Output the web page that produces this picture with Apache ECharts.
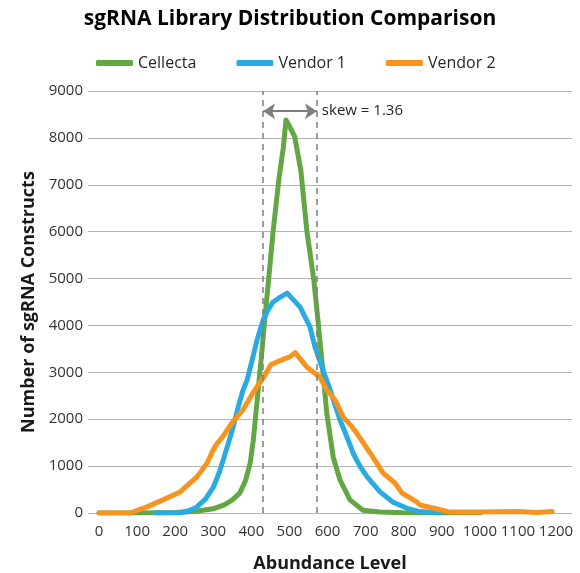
<!DOCTYPE html>
<html>
<head>
<meta charset="utf-8">
<script src="https://cdn.jsdelivr.net/npm/echarts@6/dist/echarts.min.js"></script>
<style>
  html, body { margin: 0; padding: 0; background: #fff; }
  #chart { width: 580px; height: 573px; }
</style>
</head>
<body>
<div id="chart"></div>
<script>
// data
const cellectaX = [0, 100, 200, 250, 300, 330, 350, 370, 385, 397, 405, 412, 420, 428, 436, 445, 457, 472, 484, 491, 500, 514, 530, 546, 564, 575, 587, 598, 615, 633, 659, 693, 738, 800, 900, 1000]
const cellectaY = [0, 0, 10, 30, 90, 180, 280, 430, 700, 1070, 1550, 2130, 2800, 3480, 4200, 4950, 6000, 7100, 7800, 8380, 8250, 8020, 7300, 6000, 4970, 4100, 3100, 2130, 1190, 700, 280, 60, 20, 5, 0, 0]

const vendor1X = [150, 180, 213, 240, 257, 280, 300, 315, 326, 340, 352, 365, 378, 389, 402, 415, 431, 445, 457, 475, 494, 510, 528, 554, 567, 588, 607, 633, 651, 667, 685, 704, 738, 772, 809, 843, 870, 900]
const vendor1Y = [0, 0, 0, 60, 130, 300, 550, 850, 1130, 1500, 1830, 2250, 2620, 2840, 3260, 3690, 4120, 4350, 4500, 4600, 4690, 4550, 4390, 3970, 3540, 3050, 2620, 1980, 1620, 1280, 1000, 770, 450, 230, 100, 30, 15, 10]

const vendor2X = [0, 81, 126, 168, 213, 257, 285, 297, 307, 326, 349, 378, 404, 431, 451, 470, 490, 501, 515, 546, 580, 598, 620, 641, 660, 677, 712, 746, 777, 795, 835, 843, 887, 922, 1000, 1050, 1100, 1150, 1190]
const vendor2Y = [0, 0, 130, 280, 450, 770, 1080, 1300, 1450, 1640, 1920, 2200, 2560, 2880, 3160, 3230, 3300, 3330, 3420, 3110, 2900, 2620, 2410, 2050, 1880, 1700, 1280, 850, 640, 430, 230, 170, 85, 20, 20, 25, 30, 10, 30]

const xTicks = [0, 100, 200, 300, 400, 500, 600, 700, 800, 900, 1000, 1100, 1200]
const skewLeft = 431
const skewRight = 572
const skewLevel = 8570
const skewText = 'skew = 1.36'

const pairs = (xs, ys) => xs.map((x, i) => [x, ys[i]])

const chartDom = document.getElementById('chart')
const myChart = echarts.init(chartDom)
const font = '"Open Sans", "Noto Sans", sans-serif'
const gray = '#7f7f7f'

const option = {
  animation: false,
  textStyle: { fontFamily: font },
  title: {
    text: 'sgRNA Library Distribution Comparison',
    left: 'center',
    top: 4,
    textStyle: { fontSize: 21, fontWeight: 'bold', color: '#000', fontFamily: font }
  },
  legend: {
    left: 91,
    top: 50,
    icon: 'roundRect',
    itemWidth: 37,
    itemHeight: 6,
    itemGap: 40,
    textStyle: { fontSize: 16, color: '#262626', fontFamily: font }
  },
  grid: { left: 88, right: 8, top: 91, bottom: 60, outerBoundsMode: 'none' },
  xAxis: {
    type: 'value',
    min: -29,
    max: 1242,
    name: 'Abundance Level',
    nameLocation: 'middle',
    nameGap: 42,
    nameTextStyle: { fontSize: 18, fontWeight: 'bold', color: '#1a1a1a' },
    axisLine: { show: false },
    axisTick: { show: false },
    splitLine: { show: false },
    axisLabel: {
      customValues: xTicks,
      fontSize: 15,
      color: '#333',
      margin: 11,
      formatter: (v) => String(v)
    }
  },
  yAxis: {
    type: 'value',
    min: 0,
    max: 9000,
    interval: 1000,
    name: 'Number of sgRNA Constructs',
    nameLocation: 'middle',
    nameGap: 50,
    nameTextStyle: { fontSize: 18, fontWeight: 'bold', color: '#1a1a1a' },
    axisLine: { show: false },
    axisTick: { show: false },
    axisLabel: { fontSize: 15, color: '#333', margin: 5, formatter: (v) => String(v) },
    splitLine: { lineStyle: { color: '#b4b4b4', width: 1 } }
  },
  series: [
    {
      name: 'Cellecta',
      type: 'line',
      symbol: 'none',
      color: '#62a744',
      lineStyle: { width: 5, cap: 'round', join: 'round' },
      data: pairs(cellectaX, cellectaY),
      //虚线和箭头
      markLine: {
        silent: true,
        lineStyle: { color: gray, width: 1.5, type: [6, 5] },
        label: { show: false },
        data: [
          [{ coord: [skewLeft, 0], symbol: 'none' }, { coord: [skewLeft, 9000], symbol: 'none' }],
          [{ coord: [skewRight, 0], symbol: 'none' }, { coord: [skewRight, 9000], symbol: 'none' }],
          [
            {
              coord: [skewLeft, skewLevel],
              symbol: 'arrow',
              symbolSize: 12,
              lineStyle: { type: 'solid', width: 2, color: gray },
              label: {
                show: true,
                position: 'end',
                formatter: skewText,
                color: '#262626',
                fontSize: 15,
                distance: 5
              }
            },
            { coord: [skewRight, skewLevel], symbol: 'arrow', symbolSize: 12 }
          ]
        ]
      }
    },
    {
      name: 'Vendor 1',
      type: 'line',
      symbol: 'none',
      color: '#29abe2',
      lineStyle: { width: 5, cap: 'round', join: 'round' },
      data: pairs(vendor1X, vendor1Y)
    },
    {
      name: 'Vendor 2',
      type: 'line',
      symbol: 'none',
      color: '#f7941d',
      lineStyle: { width: 5, cap: 'round', join: 'round' },
      data: pairs(vendor2X, vendor2Y)
    }
  ]
}
option && myChart.setOption(option)
</script>
</body>
</html>
